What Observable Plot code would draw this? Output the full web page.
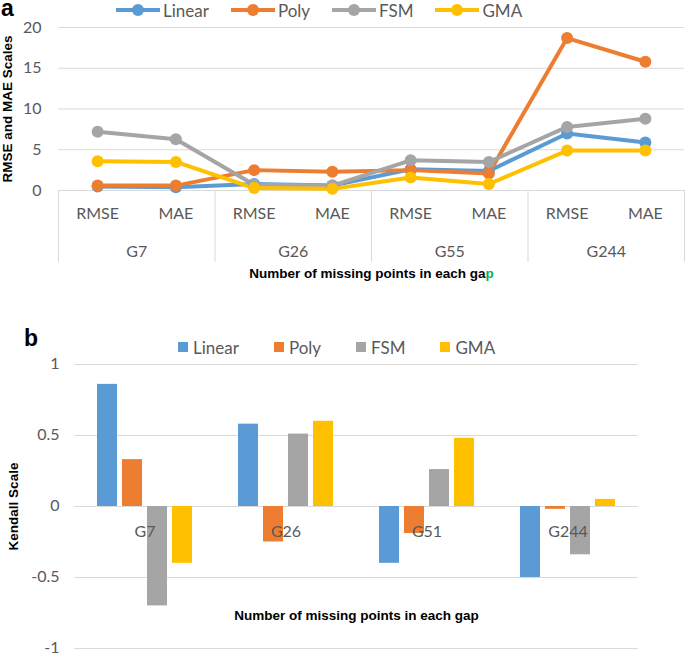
<!DOCTYPE html>
<html><head><meta charset="utf-8">
<script src="https://cdn.jsdelivr.net/npm/d3@7"></script>
<script src="https://cdn.jsdelivr.net/npm/@observablehq/plot@0.6"></script>
<style>
body{margin:0;background:#fff;}
#wrap{position:relative;width:685px;height:655px;overflow:hidden;font-family:"Lato",sans-serif;color:#595959;}
#wrap svg.chart{position:absolute;left:0;}
.panel{position:absolute;font-family:"Liberation Sans",Arial,sans-serif;font-weight:bold;color:#000;font-size:23px;line-height:16px;}
.leg{position:absolute;display:flex;align-items:center;font-size:17px;white-space:nowrap;height:20px;}
.leg .it{display:flex;align-items:center;}
</style></head><body><div id="wrap"></div>
<script>
// ---------- data ----------
const seriesNames = ["Linear", "Poly", "FSM", "GMA"];
const colors = ["#5B9BD5", "#ED7D31", "#A5A5A5", "#FFC000"];

// chart a
const groupsA = ["G7", "G26", "G55", "G244"];
const metrics = ["RMSE", "MAE"];
const linearA = [0.5, 0.4, 0.8, 0.6, 2.6, 2.4, 7.0, 5.9];
const polyA   = [0.6, 0.6, 2.5, 2.3, 2.5, 2.1, 18.7, 15.8];
const fsmA    = [7.2, 6.3, 0.7, 0.6, 3.7, 3.5, 7.8, 8.8];
const gmaA    = [3.6, 3.5, 0.3, 0.2, 1.6, 0.8, 4.9, 4.9];
const ticksA  = [0, 5, 10, 15, 20];
const yTitleA = "RMSE and MAE Scales";
const xTitleA = "Number of missing points in each gap";

// chart b
const groupsB = ["G7", "G26", "G51", "G244"];
const linearB = [0.86, 0.58, -0.40, -0.50];
const polyB   = [0.33, -0.25, -0.19, -0.02];
const fsmB    = [-0.70, 0.51, 0.26, -0.34];
const gmaB    = [-0.40, 0.60, 0.48, 0.05];
const ticksB  = [-1, -0.5, 0, 0.5, 1];
const yTitleB = "Kendall Scale";
const xTitleB = "Number of missing points in each gap";

// ---------- build tables ----------
const valuesA = [linearA, polyA, fsmA, gmaA];
const valuesB = [linearB, polyB, fsmB, gmaB];
const rowsA = [];
seriesNames.forEach((s, k) => valuesA[k].forEach((v, i) =>
  rowsA.push({series: s, i, group: groupsA[Math.floor(i / metrics.length)], metric: metrics[i % metrics.length], value: v})));
const rowsB = [];
seriesNames.forEach((s, k) => valuesB[k].forEach((v, j) =>
  rowsB.push({series: s, group: groupsB[j], value: v})));

const wrap = document.getElementById("wrap");
const gray = "#595959", grid = "#D9D9D9";
const baseStyle = {fontFamily: '"Lato",sans-serif', fontSize: "16px", color: gray, background: "transparent", overflow: "visible"};
const titleFont = {fontWeight: "bold", fontSize: 13.5, fill: "#000", fontFamily: '"Liberation Sans",Arial,sans-serif'};

// ---------- chart a ----------
const nA = groupsA.length * metrics.length;
const plotA = Plot.plot({
  width: 685, height: 300,
  marginLeft: 58, marginRight: 1, marginTop: 27, marginBottom: 110,
  style: baseStyle,
  x: {type: "linear", domain: [-0.5, nA - 0.5]},
  y: {domain: [ticksA[0], ticksA[ticksA.length - 1]]},
  color: {domain: seriesNames, range: colors},
  marks: [
    Plot.ruleY(ticksA, {stroke: grid, strokeWidth: 1}),
    Plot.axisY({ticks: ticksA, tickSize: 0, tickPadding: 17, label: null, tickFormat: d => String(d)}),
    Plot.axisX({ticks: d3.range(nA), tickFormat: i => metrics[i % metrics.length], tickSize: 0, tickPadding: 17, label: null}),
    Plot.axisX({ticks: groupsA.map((g, j) => j * metrics.length + (metrics.length - 1) / 2),
      tickFormat: d => groupsA[Math.round((d - (metrics.length - 1) / 2) / metrics.length)], tickSize: 0, tickPadding: 55, label: null}),
    Plot.axisX({ticks: d3.range(groupsA.length + 1).map(j => j * metrics.length - 0.5), tickFormat: () => "", tickSize: 72, stroke: grid, label: null}),
    Plot.line(rowsA, {x: "i", y: "value", stroke: "series", z: "series", strokeWidth: 4}),
    Plot.dot(rowsA, {x: "i", y: "value", fill: "series", r: 6}),
    Plot.text([yTitleA], {frameAnchor: "left", textAnchor: "middle", rotate: -90, dx: -51, ...titleFont}),
    Plot.text([xTitleA], {frameAnchor: "bottom", textAnchor: "middle", dy: 87, ...titleFont})
  ]
});
plotA.classList.add("chart");
plotA.style.top = "0px";
wrap.appendChild(plotA);
// green last letter as in the original
plotA.querySelectorAll("text").forEach(t => {
  if (t.textContent === xTitleA) {
    t.textContent = xTitleA.slice(0, -1);
    const ts = document.createElementNS("http://www.w3.org/2000/svg", "tspan");
    ts.textContent = xTitleA.slice(-1);
    ts.setAttribute("fill", "#00B050");
    t.appendChild(ts);
  }
});

// ---------- chart b ----------
const plotB = Plot.plot({
  width: 685, height: 355,
  marginLeft: 72, marginRight: 46, marginTop: 64, marginBottom: 7,
  style: baseStyle,
  fx: {domain: groupsB, padding: 0, axis: null, label: null},
  x: {domain: seriesNames, paddingInner: 0.207, paddingOuter: 0.88, axis: null},
  y: {domain: [ticksB[0], ticksB[ticksB.length - 1]]},
  color: {domain: seriesNames, range: colors},
  marks: [
    Plot.ruleY(ticksB, {stroke: grid, strokeWidth: 1}),
    Plot.barY(rowsB, {fx: "group", x: "series", y: "value", fill: "series"}),
    Plot.axisY({ticks: ticksB, tickSize: 0, tickPadding: 15, label: null, tickFormat: d => String(d), dy: -1}),
    Plot.text(groupsB, {fx: d => d, y: 0, text: d => d, dy: 25, fill: gray, fontSize: 16}),
    Plot.text([yTitleB], {fx: () => groupsB[0], frameAnchor: "left", textAnchor: "middle", rotate: -90, dx: -61, ...titleFont}),
    Plot.text([xTitleB], {fx: () => groupsB[1], frameAnchor: "right", textAnchor: "middle", dy: 109, ...titleFont})
  ]
});
plotB.classList.add("chart");
plotB.style.top = "300px";
wrap.appendChild(plotB);

// ---------- panel letters ----------
const pa = document.createElement("div"); pa.className = "panel"; pa.textContent = "a";
pa.style.left = "1px"; pa.style.top = "0px"; wrap.appendChild(pa);
const pb = document.createElement("div"); pb.className = "panel"; pb.textContent = "b";
pb.style.left = "24px"; pb.style.top = "330px"; wrap.appendChild(pb);

// ---------- legends ----------
const legA = document.createElement("div"); legA.className = "leg";
legA.style.left = "116px"; legA.style.top = "0px"; legA.style.gap = "22px";
seriesNames.forEach((s, k) => {
  const it = document.createElement("div"); it.className = "it";
  it.innerHTML = `<svg width="44" height="20" style="display:block"><line x1="0" x2="44" y1="10" y2="10" stroke="${colors[k]}" stroke-width="4"/><circle cx="22" cy="10" r="6" fill="${colors[k]}"/></svg><span style="margin-left:3px">${s}</span>`;
  legA.appendChild(it);
});
wrap.appendChild(legA);

const legB = document.createElement("div"); legB.className = "leg";
legB.style.left = "178px"; legB.style.top = "337px"; legB.style.gap = "35px";
seriesNames.forEach((s, k) => {
  const it = document.createElement("div"); it.className = "it";
  it.innerHTML = `<span style="display:inline-block;width:10px;height:10px;background:${colors[k]}"></span><span style="margin-left:5px">${s}</span>`;
  legB.appendChild(it);
});
wrap.appendChild(legB);
</script>
</body></html>
